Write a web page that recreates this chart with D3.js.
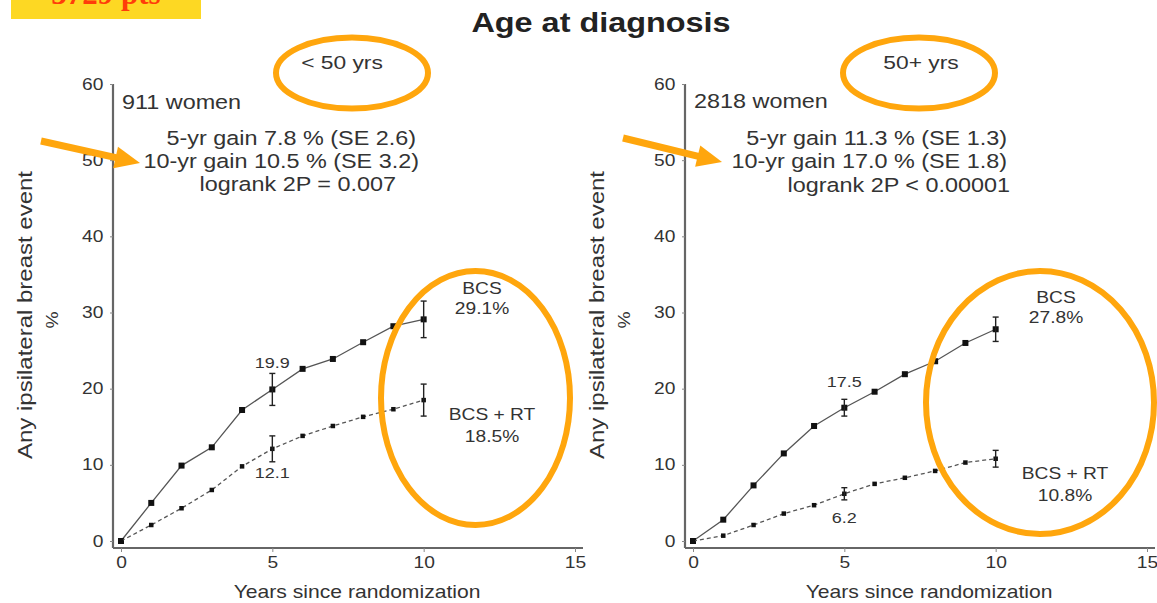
<!DOCTYPE html>
<html>
<head>
<meta charset="utf-8">
<script src="https://cdn.jsdelivr.net/npm/d3@7"></script>
<style>
  html, body { margin: 0; padding: 0; background: #fff; }
  svg { display: block; font-family: "Liberation Sans", Arial, sans-serif; }
</style>
</head>
<body>
<div id="chart"></div>
<script>
/* Age at diagnosis - two panel cumulative risk plot */
var years = [0, 1, 2, 3, 4, 5, 6, 7, 8, 9, 10];
var xTicks = [0, 5, 10, 15];
var yTicks = [0, 10, 20, 30, 40, 50, 60];

// < 50 yrs
var youngBCS   = [0, 5.0, 9.9, 12.3, 17.2, 19.9, 22.6, 23.9, 26.1, 28.2, 29.1];
var youngBCSRT = [0, 2.1, 4.3, 6.7, 9.8, 12.1, 13.8, 15.1, 16.3, 17.3, 18.5];
var youngErrBCS   = [[5, 2.1], [10, 2.4]];
var youngErrBCSRT = [[5, 1.7], [10, 2.1]];

// 50+ yrs
var oldBCS   = [0, 2.8, 7.3, 11.5, 15.1, 17.5, 19.6, 21.9, 23.6, 26.0, 27.8];
var oldBCSRT = [0, 0.7, 2.1, 3.6, 4.7, 6.2, 7.5, 8.3, 9.2, 10.3, 10.8];
var oldErrBCS   = [[5, 1.1], [10, 1.6]];
var oldErrBCSRT = [[5, 0.8], [10, 1.1]];

var W = 1157, H = 603;
var ORANGE = '#FFA60D';
var INK = '#333';
var SX = 1.2;   // the source picture is stretched sideways

var svg = d3.select('#chart').append('svg').attr('width', W).attr('height', H);

// stretched text helper
function stxt(parent, x, y, t, fs, anchor, rot) {
    return parent.append('text')
        .attr('transform', 'translate(' + x + ',' + y + ')' + (rot ? ' rotate(' + rot + ')' : '') + ' scale(' + SX + ',1)')
        .attr('text-anchor', anchor || 'middle')
        .attr('font-size', fs).attr('fill', INK).text(t);
}

// yellow label box (clipped at top, as in the source)
svg.append('rect').attr('x', 11).attr('y', 0).attr('width', 190).attr('height', 19).attr('fill', '#FDD823');
svg.append('text').attr('x', 106).attr('y', 4).attr('text-anchor', 'middle')
    .attr('font-family', '"Liberation Serif", "Times New Roman", serif')
    .attr('font-weight', 'bold').attr('font-size', 31).attr('fill', '#FF3D0A')
    .text('3729 pts');

stxt(svg, 601, 32, 'Age at diagnosis', 27, 'middle').attr('font-weight', 'bold').attr('fill', '#222');

function drawPanel(p) {
    var x = d3.scaleLinear().domain([0, 15]).range([p.x0, p.x0 + 454]);
    var y = d3.scaleLinear().domain([0, 60]).range([541, 84]);
    var g = svg.append('g');

    // axes
    var xAxis = g.append('g').attr('transform', 'translate(0,548)')
        .call(d3.axisBottom(x).tickValues(xTicks).tickSize(4).tickPadding(5).tickSizeOuter(0));
    xAxis.select('.domain').attr('d', 'M' + (p.x0 - 8) + ',0H' + (p.x0 + 462));
    var yAxis = g.append('g').attr('transform', 'translate(' + (p.x0 - 8) + ',0)')
        .call(d3.axisLeft(y).tickValues(yTicks).tickSize(3).tickPadding(5).tickSizeOuter(0));
    yAxis.select('.domain').attr('d', 'M0,' + y(60) + 'V548');
    [xAxis, yAxis].forEach(function(a){
        a.select('.domain').attr('stroke', '#666').attr('stroke-width', 2.2);
        a.selectAll('.tick line').attr('stroke', '#888');
        a.selectAll('.tick text').attr('font-size', 16).attr('fill', INK)
            .attr('transform', 'scale(' + SX + ',1)')
            .attr('font-family', '"Liberation Sans", Arial, sans-serif');
    });

    stxt(g, x(7.8), 598, 'Years since randomization', 17.6, 'middle');
    stxt(g, p.x0 - 89, 315, 'Any ipsilateral breast event', 20, 'middle', -90);
    stxt(g, p.x0 - 63, 320, '%', 16, 'middle', -90);

    var line = d3.line().x(function(d, i){ return x(years[i]); }).y(function(d){ return y(d); });

    // series
    [{ v: p.bcs, err: p.errBcs, dash: null, sz: 6 },
     { v: p.rt,  err: p.errRt,  dash: '4,3', sz: 4.5 }].forEach(function(s){
        g.append('path').datum(s.v).attr('d', line).attr('fill', 'none')
            .attr('stroke', '#555').attr('stroke-width', 1.3)
            .attr('stroke-dasharray', s.dash);
        g.append('g').selectAll('rect').data(s.v).join('rect')
            .attr('x', function(d, i){ return x(years[i]) - s.sz / 2; })
            .attr('y', function(d){ return y(d) - s.sz / 2; })
            .attr('width', s.sz).attr('height', s.sz).attr('fill', '#111');
        var eb = g.append('g').selectAll('g').data(s.err).join('g').attr('stroke', '#222').attr('stroke-width', 1.4);
        eb.append('line')
            .attr('x1', function(d){ return x(d[0]); }).attr('x2', function(d){ return x(d[0]); })
            .attr('y1', function(d){ return y(s.v[d[0]] - d[1]); })
            .attr('y2', function(d){ return y(s.v[d[0]] + d[1]); });
        [-1, 1].forEach(function(sg){
            eb.append('line')
                .attr('x1', function(d){ return x(d[0]) - 3; }).attr('x2', function(d){ return x(d[0]) + 3; })
                .attr('y1', function(d){ return y(s.v[d[0]] + sg * d[1]); })
                .attr('y2', function(d){ return y(s.v[d[0]] + sg * d[1]); });
        });
    });

    // text annotations
    stxt(g, p.x0 + 1, p.womenY, p.women, 19.5, 'start');
    p.stats.forEach(function(s){ stxt(g, s[1], s[2], s[0], 19.5, 'end'); });
    stxt(g, p.groupX, 69, p.group, 19, 'middle');
    stxt(g, p.bcsLab[0], p.bcsLab[1], 'BCS', 16, 'middle');
    stxt(g, p.bcsLab[0], p.bcsLab[1] + 20, p.bcsLab[2], 16, 'middle');
    stxt(g, p.rtLab[0], p.rtLab[1], 'BCS + RT', 16, 'middle');
    stxt(g, p.rtLab[0], p.rtLab[1] + 22, p.rtLab[2], 16, 'middle');
    stxt(g, x(5), y(p.bcs[5]) - 21, p.bcs[5].toFixed(1), 15, 'middle');
    stxt(g, x(5), y(p.rt[5]) + 29, p.rt[5].toFixed(1), 15, 'middle');

    // orange highlights
    g.append('ellipse').attr('cx', p.small[0]).attr('cy', p.small[1]).attr('rx', 76).attr('ry', 35.5)
        .attr('fill', 'none').attr('stroke', ORANGE).attr('stroke-width', 6);
    g.append('ellipse').attr('cx', p.big[0]).attr('cy', p.big[1]).attr('rx', p.big[2]).attr('ry', p.big[3])
        .attr('fill', 'none').attr('stroke', ORANGE).attr('stroke-width', 6);
    var a = p.arrow;
    var ang = Math.atan2(a[3] - a[1], a[2] - a[0]);
    function pt(d, o){ return [a[2] - d * Math.cos(ang) - o * Math.sin(ang), a[3] - d * Math.sin(ang) + o * Math.cos(ang)]; }
    var shaftEnd = pt(20, 0);
    g.append('line').attr('x1', a[0]).attr('y1', a[1]).attr('x2', shaftEnd[0]).attr('y2', shaftEnd[1])
        .attr('stroke', ORANGE).attr('stroke-width', 7);
    g.append('path').attr('d', 'M' + [a[2], a[3]] + 'L' + pt(25, -11) + 'L' + pt(25, 11) + 'Z').attr('fill', ORANGE);
}

drawPanel({
    x0: 121,
    bcs: youngBCS, rt: youngBCSRT, errBcs: youngErrBCS, errRt: youngErrBCSRT,
    women: '911 women', womenY: 109, group: '< 50 yrs', groupX: 342,
    stats: [['5-yr gain  7.8 % (SE 2.6)', 416, 145], ['10-yr gain 10.5 % (SE 3.2)', 419, 168], ['logrank 2P = 0.007', 396, 191]],
    bcsLab: [482, 294, '29.1%'], rtLab: [492, 420, '18.5%'],
    small: [352, 73], big: [475.5, 398, 94.5, 127],
    arrow: [41, 141, 140, 163]
});
drawPanel({
    x0: 693,
    bcs: oldBCS, rt: oldBCSRT, errBcs: oldErrBCS, errRt: oldErrBCSRT,
    women: '2818 women', womenY: 108, group: '50+ yrs', groupX: 921,
    stats: [['5-yr gain 11.3 % (SE 1.3)', 1007, 145], ['10-yr  gain 17.0 % (SE 1.8)', 1007, 168], ['logrank 2P < 0.00001', 1010, 192]],
    bcsLab: [1056, 303, '27.8%'], rtLab: [1065, 479, '10.8%'],
    small: [919, 73], big: [1040, 402.5, 114, 131.5],
    arrow: [623, 138, 722, 162]
});
</script>
</body>
</html>
